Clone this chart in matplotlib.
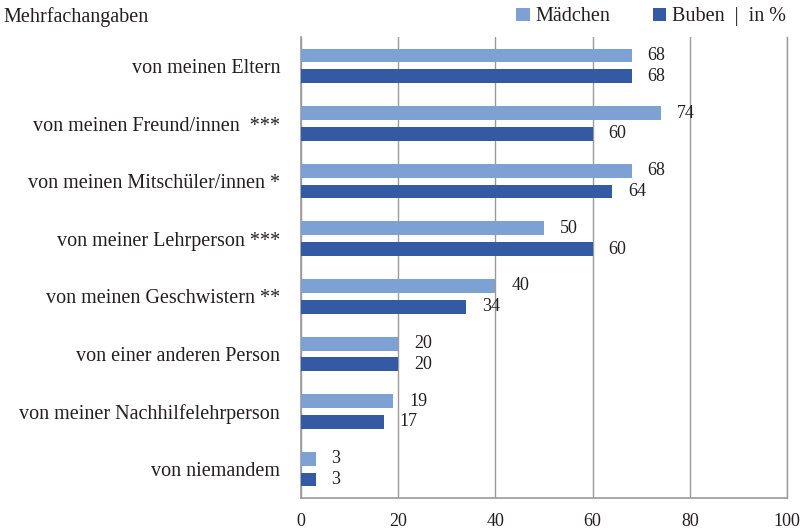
import matplotlib.pyplot as plt
import numpy as np

categories = [
    'von meinen Eltern',
    'von meinen Freund/innen  ***',
    'von meinen Mitschüler/innen *',
    'von meiner Lehrperson ***',
    'von meinen Geschwistern **',
    'von einer anderen Person',
    'von meiner Nachhilfelehrperson',
    'von niemandem',
]
maedchen = [68, 74, 68, 50, 40, 20, 19, 3]
buben = [68, 60, 64, 60, 34, 20, 17, 3]
xticks = [0, 20, 40, 60, 80, 100]

LIGHT = '#7ea1d4'
DARK = '#335aa3'
TEXT = '#231f20'
GRID = '#9a9a9a'

plt.rcParams['font.family'] = ['Liberation Serif', 'DejaVu Serif']

fig = plt.figure(figsize=(8.04, 5.30), dpi=100)
ax = fig.add_axes([0.3744, 0.0604, 0.6045, 0.8696])

y = np.arange(len(categories))
h = 0.24
off = 0.18
b1 = ax.barh(y - off, maedchen, height=h, color=LIGHT, label='Mädchen', zorder=3)
b2 = ax.barh(y + off, buben, height=h, color=DARK, label='Buben  |  in %', zorder=3)

# value labels right of each bar
for bars, vals in ((b1, maedchen), (b2, buben)):
    for rect, v in zip(bars, vals):
        ax.annotate(f'{v}', (v, rect.get_y() + rect.get_height() / 2),
                    xytext=(16, 0), textcoords='offset pixels',
                    va='center', ha='left', fontsize=13, color=TEXT, zorder=4)

ax.set_ylim(len(categories) - 0.5, -0.5)
ax.set_xlim(0, 100)
ax.set_yticks(y)
ax.set_yticklabels(categories, fontsize=14.5, color=TEXT)
ax.set_xticks(xticks)
ax.set_xticklabels([str(t) for t in xticks], fontsize=13, color=TEXT)
ax.tick_params(axis='both', length=0)
ax.tick_params(axis='x', pad=11)
ax.tick_params(axis='y', pad=15)

ax.grid(axis='x', color=GRID, linewidth=1, zorder=0)
ax.spines['top'].set_visible(False)
for s in ('left', 'bottom', 'right'):
    ax.spines[s].set_color(GRID)
    ax.spines[s].set_linewidth(1.2)
ax.spines['right'].set_linewidth(1)

fig.text(0.004, 0.968, 'Mehrfachangaben', fontsize=14.5, color=TEXT, ha='left', va='center')

ax.legend(handles=[b1, b2], loc='center right', bbox_to_anchor=(0.99, 0.968),
          bbox_transform=fig.transFigure, ncol=2, frameon=False, fontsize=14.5,
          handlelength=0.65, handleheight=0.6, handletextpad=0.3, columnspacing=2.1,
          borderpad=0, labelcolor=TEXT)

fig.savefig('out.png', dpi=100)
